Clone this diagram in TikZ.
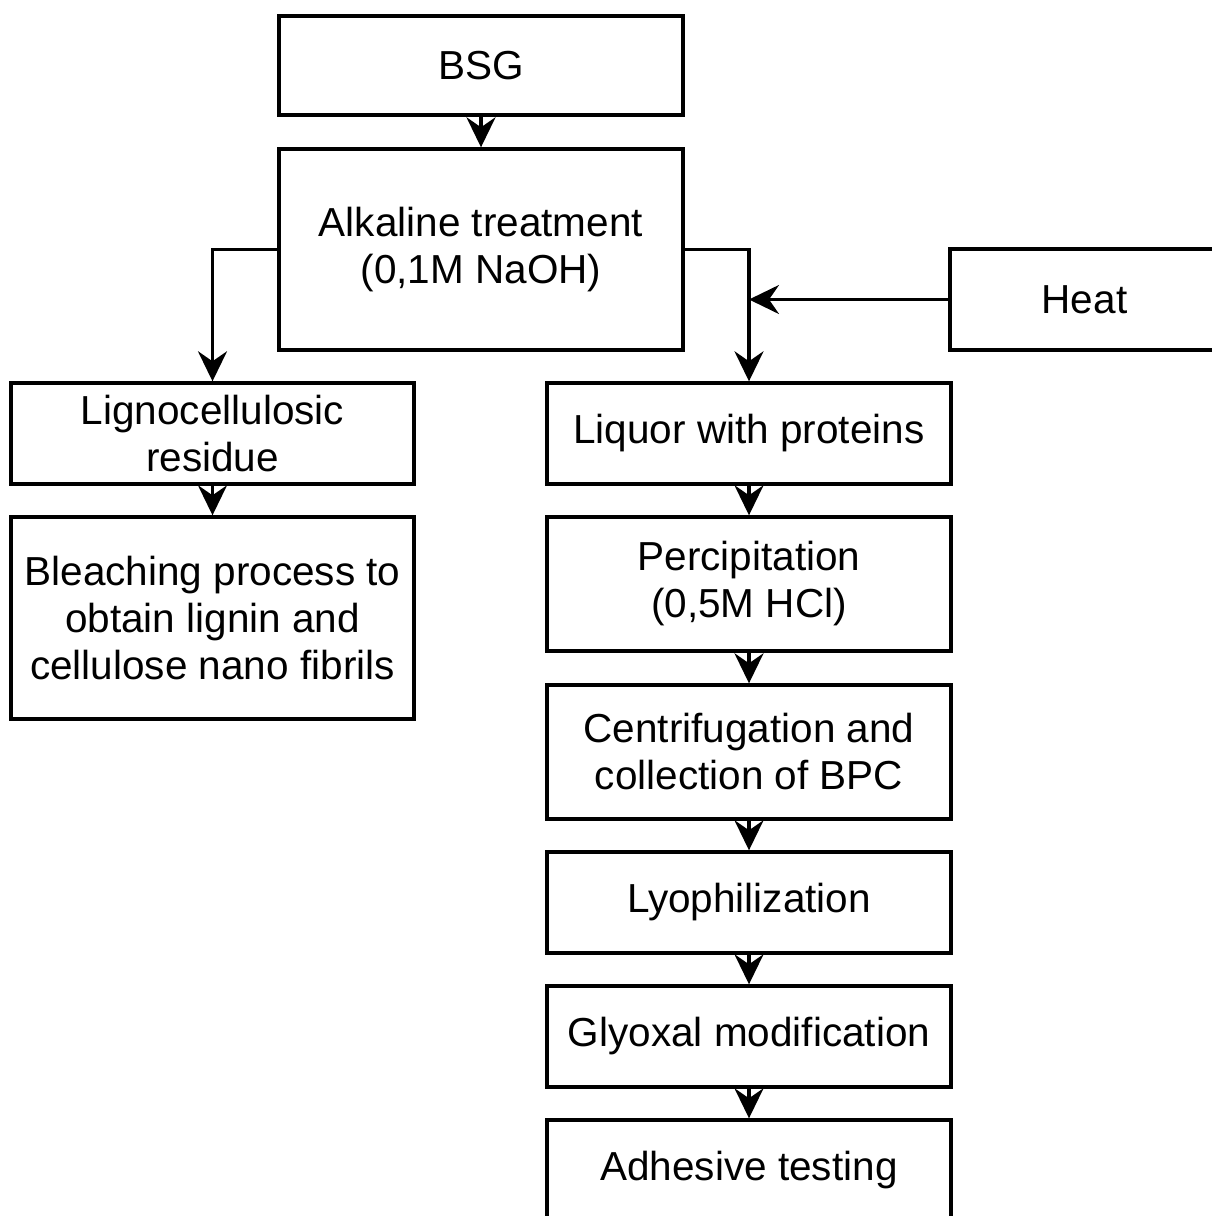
\documentclass[tikz,border=0pt]{standalone}
\usepackage{fontspec}
\setmainfont{Liberation Sans}
\usetikzlibrary{arrows.meta}

\begin{document}
\begin{tikzpicture}[x=1pt,y=-1pt,line width=3.4pt,
  stage/.style={draw,rectangle,align=center,inner sep=0pt,minimum width=404pt,
    font=\fontsize{40.5}{47}\selectfont},
  flow/.style={-{Stealth[length=30pt,width=29pt,inset=10pt]}}]
   \useasboundingbox (0,0) rectangle (1211,1216);
   % main stages
   \node[stage,minimum height=99pt] (bsg) at (481,65.5) {BSG};
   \node[stage,minimum height=201pt] (alk) at (481,249.5) {Alkaline treatment\\(0,1M NaOH)};
   \node[stage,minimum height=101pt,minimum width=269pt] (heat) at (1084.5,299.5) {Heat};
   % left branch
   \node[stage,minimum height=101pt,minimum width=403pt] (lig) at (212.5,433.5) {Lignocellulosic\\residue};
   \node[stage,minimum height=202pt,minimum width=403pt] (blc) at (212.5,618) {Bleaching process to\\obtain lignin and\\cellulose nano fibrils};
   % right branch
   \node[stage,minimum height=101pt] (liq) at (749,433.5) {Liquor with proteins};
   \node[stage,minimum height=134pt] (pcp) at (749,584) {Percipitation\\(0,5M HCl)};
   \node[stage,minimum height=134pt] (cen) at (749,752) {Centrifugation and\\collection of BPC};
   \node[stage,minimum height=101pt] (lyo) at (749,902.5) {Lyophilization};
   \node[stage,minimum height=101pt] (gly) at (749,1036.5) {Glyoxal modification};
   \node[stage,minimum height=101pt] (adh) at (749,1170.5) {Adhesive testing};
   \coordinate (hin) at (749,299.5);

   \draw[flow] (bsg) -- (alk);
   \draw[flow] (alk.west) -| (lig.north);
   \draw[flow] (alk.east) -| (liq.north);
   \draw[flow] (heat.west) -- (hin);
   \draw[flow] (lig) -- (blc);
   \draw[flow] (liq) -- (pcp);
   \draw[flow] (pcp) -- (cen);
   \draw[flow] (cen) -- (lyo);
   \draw[flow] (lyo) -- (gly);
   \draw[flow] (gly) -- (adh);
\end{tikzpicture}
\end{document}
